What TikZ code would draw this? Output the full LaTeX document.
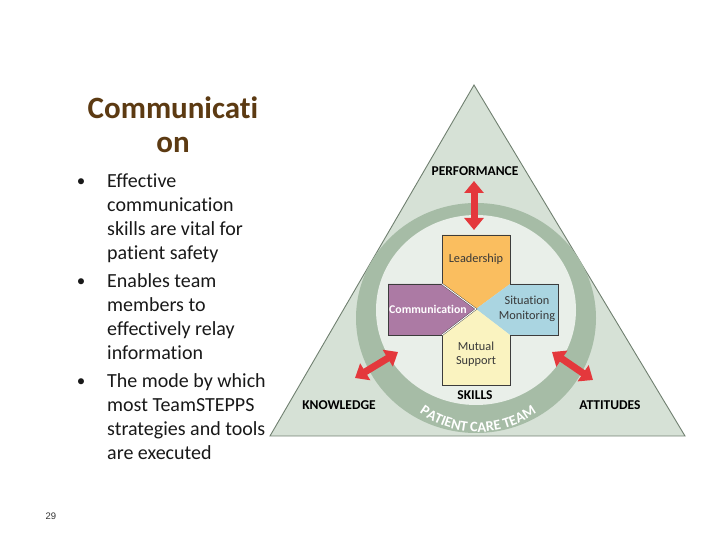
\documentclass[tikz,border=0pt]{standalone}
\usepackage{fontspec}
\setmainfont{Carlito}[Ligatures={NoCommon}]
\newfontfamily\arialf{Liberation Sans}
\usetikzlibrary{arrows.meta,decorations.text}
\definecolor{trifill}{RGB}{214,225,214}
\definecolor{triline}{RGB}{112,128,112}
\definecolor{ringc}{RGB}{166,188,166}
\definecolor{innerc}{RGB}{233,239,233}
\definecolor{leadc}{RGB}{250,190,95}
\definecolor{commc}{RGB}{172,122,164}
\definecolor{sitc}{RGB}{170,213,225}
\definecolor{mutc}{RGB}{250,243,192}
\definecolor{boxline}{RGB}{60,60,60}
\definecolor{arrc}{RGB}{228,56,60}
\definecolor{titlec}{RGB}{92,58,18}
\definecolor{bodyc}{RGB}{25,25,25}
\tikzset{
  x=1pt,y=1pt,
  bigarrow/.style={draw=arrc,line width=7pt,{Triangle[length=12pt,width=19pt]}-{Triangle[length=12pt,width=19pt]}},
  caplabel/.style={font=\bfseries\fontsize{13.5}{14}\selectfont,text=black,inner sep=0pt},
  boxlabel/.style={font=\fontsize{12.3}{14.5}\selectfont,text=black!78,inner sep=0pt,align=center},
  bodyline/.style={anchor=base west,inner sep=0pt,font=\fontsize{20}{24}\selectfont,text=bodyc},
  bulletdot/.style={anchor=base,inner sep=0pt,font=\fontsize{17}{24}\selectfont,text=bodyc},
  titleline/.style={anchor=base,inner sep=0pt,font=\bfseries\fontsize{31}{34}\selectfont,text=titlec}
}
\begin{document}
\begin{tikzpicture}
\useasboundingbox (0,0) rectangle (720,540);
\fill[white] (0,0) rectangle (720,540);
% triangle
\draw[fill=trifill,draw=triline,line width=0.9pt] (474,455) -- (270,104) -- (685,104) -- cycle;
% ring
\fill[ringc] (476,222) ellipse [x radius=120,y radius=115];
\fill[innerc] (476,230) ellipse [x radius=100,y radius=95];
% ring text
\path[decorate,decoration={text along path,text align=center,
  text={|\color{white}\bfseries\fontsize{14.5}{14.5}\selectfont|PATIENT CARE TEAM}}]
  (396.9,150.2) arc[start angle=215,end angle=325,radius=99];
% cross
\coordinate (C) at (476,231);
\fill[leadc] (442,305) -- (510,305) -- (510,256) -- (C) -- (442,256) -- cycle;
\fill[commc] (388,256) -- (442,256) -- (C) -- (442,205) -- (388,205) -- cycle;
\fill[sitc] (510,256) -- (558,256) -- (558,205) -- (510,205) -- (C) -- cycle;
\fill[mutc] (C) -- (510,205) -- (510,155) -- (442,155) -- (442,205) -- cycle;
\draw[boxline,line width=0.9pt,line join=miter] (442,305) -- (510,305) -- (510,256) -- (558,256) -- (558,205) -- (510,205) -- (510,155) -- (442,155) -- (442,205) -- (388,205) -- (388,256) -- (442,256) -- cycle;
\draw[boxline,line width=0.4pt,double=white,double distance=0.9pt] (442,256) -- (C) -- (442,205);
% box labels
\node[boxlabel] (lead) at (476,281) {Leadership};
\node[font=\bfseries\fontsize{11.8}{14}\selectfont,text=white,inner sep=0pt] (comm) at (428,231) {Communication};
\node[boxlabel] (sit) at (527,231) {Situation\\Monitoring};
\node[boxlabel] (mut) at (476,186) {Mutual\\Support};
% corner labels
\node[caplabel] (perf) at (475,369) {PERFORMANCE};
\node[caplabel] (know) at (339,135) {KNOWLEDGE};
\node[caplabel] (skills) at (475,145) {SKILLS};
\node[caplabel] (att) at (610,135) {ATTITUDES};
% arrows
\coordinate (pa) at (474,359);
\coordinate (pb) at (474,310);
\coordinate (ka) at (398,188);
\coordinate (kb) at (355,162);
\coordinate (aa) at (552,188);
\coordinate (ab) at (593,160);
\draw[bigarrow] (pa) -- (pb);
\draw[bigarrow] (ka) -- (kb);
\draw[bigarrow] (aa) -- (ab);
% left text
\node[titleline] (t1) at (173,421) {Communicati};
\node[titleline] (t2) at (173,387) {on};
\node[bulletdot] (b1) at (81,353) {•};
\node[bodyline] (l1) at (107,352) {Effective};
\node[bodyline] (l2) at (107,328) {communication};
\node[bodyline] (l3) at (107,304) {skills are vital for};
\node[bodyline] (l4) at (107,280) {patient safety};
\node[bulletdot] (b2) at (81,253) {•};
\node[bodyline] (l5) at (107,252) {Enables team};
\node[bodyline] (l6) at (107,228) {members to};
\node[bodyline] (l7) at (107,204) {effectively relay};
\node[bodyline] (l8) at (107,180) {information};
\node[bulletdot] (b3) at (81,153) {•};
\node[bodyline] (l9) at (107,152) {The mode by which};
\node[bodyline] (l10) at (107,128) {most TeamSTEPPS};
\node[bodyline] (l11) at (107,104) {strategies and tools};
\node[bodyline] (l12) at (107,80) {are executed};
% page number
\node[font=\arialf\fontsize{9.5}{10}\selectfont,text=black!80,inner sep=0pt] (pg) at (51,24) {29};
\end{tikzpicture}
\end{document}
